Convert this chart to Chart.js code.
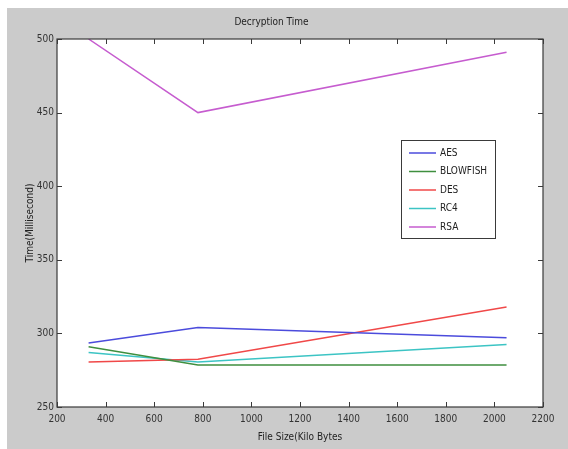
<!DOCTYPE html>
<html>
<head>
<meta charset="utf-8">
<script src="https://cdn.jsdelivr.net/npm/chart.js@4/dist/chart.umd.min.js"></script>
<style>
  html, body { margin: 0; padding: 0; background: #fff; }
  #wrap { width: 568px; height: 449px; }
</style>
</head>
<body>
<div id="wrap"><canvas id="myChart" width="568" height="449"></canvas></div>
<script>
const fileSizes = [330, 780, 2050];
const aes = [293.5, 304, 297];
const blowfish = [291, 278.5, 278.5];
const des = [280.5, 282.5, 318];
const rc4 = [287, 280.5, 292.5];
const rsa = [500, 450, 491];
const xTicks = [200, 400, 600, 800, 1000, 1200, 1400, 1600, 1800, 2000, 2200];
const yTicks = [250, 300, 350, 400, 450, 500];

const FONT = '"DejaVu Sans Condensed", "Liberation Sans Narrow", "Liberation Sans", sans-serif';
const ctx = document.getElementById('myChart');

function pts(ys) {
  return fileSizes.map((x, i) => ({ x: x, y: ys[i] }));
}

// gray figure background like matlab
const figureBg = {
  id: 'figureBg',
  beforeDraw(chart) {
    const c = chart.ctx;
    c.save();
    c.fillStyle = '#ffffff';
    c.fillRect(0, 0, chart.width, chart.height);
    c.fillStyle = '#cbcbcb';
    c.fillRect(7, 8, chart.width - 7, chart.height - 8);
    const a = chart.chartArea;
    c.fillStyle = '#ffffff';
    c.fillRect(a.left, a.top, a.right - a.left, a.bottom - a.top);
    c.restore();
  },
};

// box + inward ticks on all four sides, and legend inside the axes
const axesBox = {
  id: 'axesBox',
  afterDatasetsDraw(chart) {
    const c = chart.ctx;
    const a = chart.chartArea;
    const xs = chart.scales.x;
    const ys = chart.scales.y;
    c.save();
    c.strokeStyle = '#3a3a3a';
    c.lineWidth = 1.2;
    c.strokeRect(a.left, a.top, a.right - a.left, a.bottom - a.top);
    c.lineWidth = 1;
    c.beginPath();
    xTicks.forEach(v => {
      const px = Math.round(xs.getPixelForValue(v)) + 0.5;
      c.moveTo(px, a.bottom); c.lineTo(px, a.bottom - 5);
      c.moveTo(px, a.top); c.lineTo(px, a.top + 5);
    });
    yTicks.forEach(v => {
      const py = Math.round(ys.getPixelForValue(v)) + 0.5;
      c.moveTo(a.left, py); c.lineTo(a.left + 5, py);
      c.moveTo(a.right, py); c.lineTo(a.right - 5, py);
    });
    c.stroke();

    // legend
    const lx = 401, ly = 140, lw = 94, lh = 98;
    c.fillStyle = '#ffffff';
    c.fillRect(lx, ly, lw, lh);
    c.strokeStyle = '#3a3a3a';
    c.lineWidth = 1;
    c.strokeRect(lx + 0.5, ly + 0.5, lw, lh);
    c.font = '10px ' + FONT;
    c.textBaseline = 'middle';
    chart.data.datasets.forEach((ds, i) => {
      const y = ly + 13 + i * 18.5;
      c.strokeStyle = ds.borderColor;
      c.lineWidth = 1.5;
      c.beginPath();
      c.moveTo(lx + 8, y); c.lineTo(lx + 35, y);
      c.stroke();
      c.fillStyle = '#222';
      c.fillText(ds.label, lx + 39, y);
    });
    c.restore();
  },
};

new Chart(ctx, {
  type: 'line',
  data: {
    datasets: [
      { label: 'AES', data: pts(aes), borderColor: '#4b4bdc' },
      { label: 'BLOWFISH', data: pts(blowfish), borderColor: '#3f8f3f' },
      { label: 'DES', data: pts(des), borderColor: '#f04848' },
      { label: 'RC4', data: pts(rc4), borderColor: '#3cc4c4' },
      { label: 'RSA', data: pts(rsa), borderColor: '#c65ccf' },
    ],
  },
  options: {
    responsive: false,
    animation: false,
    devicePixelRatio: 1,
    layout: { padding: { left: 0, right: 25, top: 0, bottom: 0 } },
    elements: {
      line: { borderWidth: 1.5, tension: 0 },
      point: { radius: 0 },
    },
    plugins: {
      legend: { display: false },
      tooltip: { enabled: false },
      title: {
        display: true,
        text: 'Decryption Time',
        color: '#222',
        font: { family: FONT, size: 10, weight: 'normal' },
        padding: { top: 16, bottom: 11 },
      },
    },
    scales: {
      x: {
        type: 'linear',
        min: 200,
        max: 2200,
        afterBuildTicks: s => { s.ticks = xTicks.map(v => ({ value: v })); },
        afterFit: s => { s.height = 42; },
        grid: { display: false, drawTicks: false },
        border: { display: false },
        ticks: {
          color: '#333',
          padding: 6,
          maxRotation: 0,
          autoSkip: false,
          font: { family: FONT, size: 10 },
          callback: v => String(v),
        },
        title: {
          display: true,
          text: 'File Size(Kilo Bytes',
          color: '#222',
          font: { family: FONT, size: 10 },
          padding: { top: 0, bottom: 6 },
        },
      },
      y: {
        type: 'linear',
        min: 250,
        max: 500,
        afterBuildTicks: s => { s.ticks = yTicks.map(v => ({ value: v })); },
        afterFit: s => { s.width = 57; },
        grid: { display: false, drawTicks: false },
        border: { display: false },
        ticks: {
          color: '#333',
          padding: 3,
          autoSkip: false,
          font: { family: FONT, size: 10 },
          callback: v => String(v),
        },
        title: {
          display: true,
          text: 'Time(Millisecond)',
          color: '#222',
          font: { family: FONT, size: 10 },
          padding: { top: 24, bottom: 0 },
        },
      },
    },
  },
  plugins: [figureBg, axesBox],
});
</script>
</body>
</html>
